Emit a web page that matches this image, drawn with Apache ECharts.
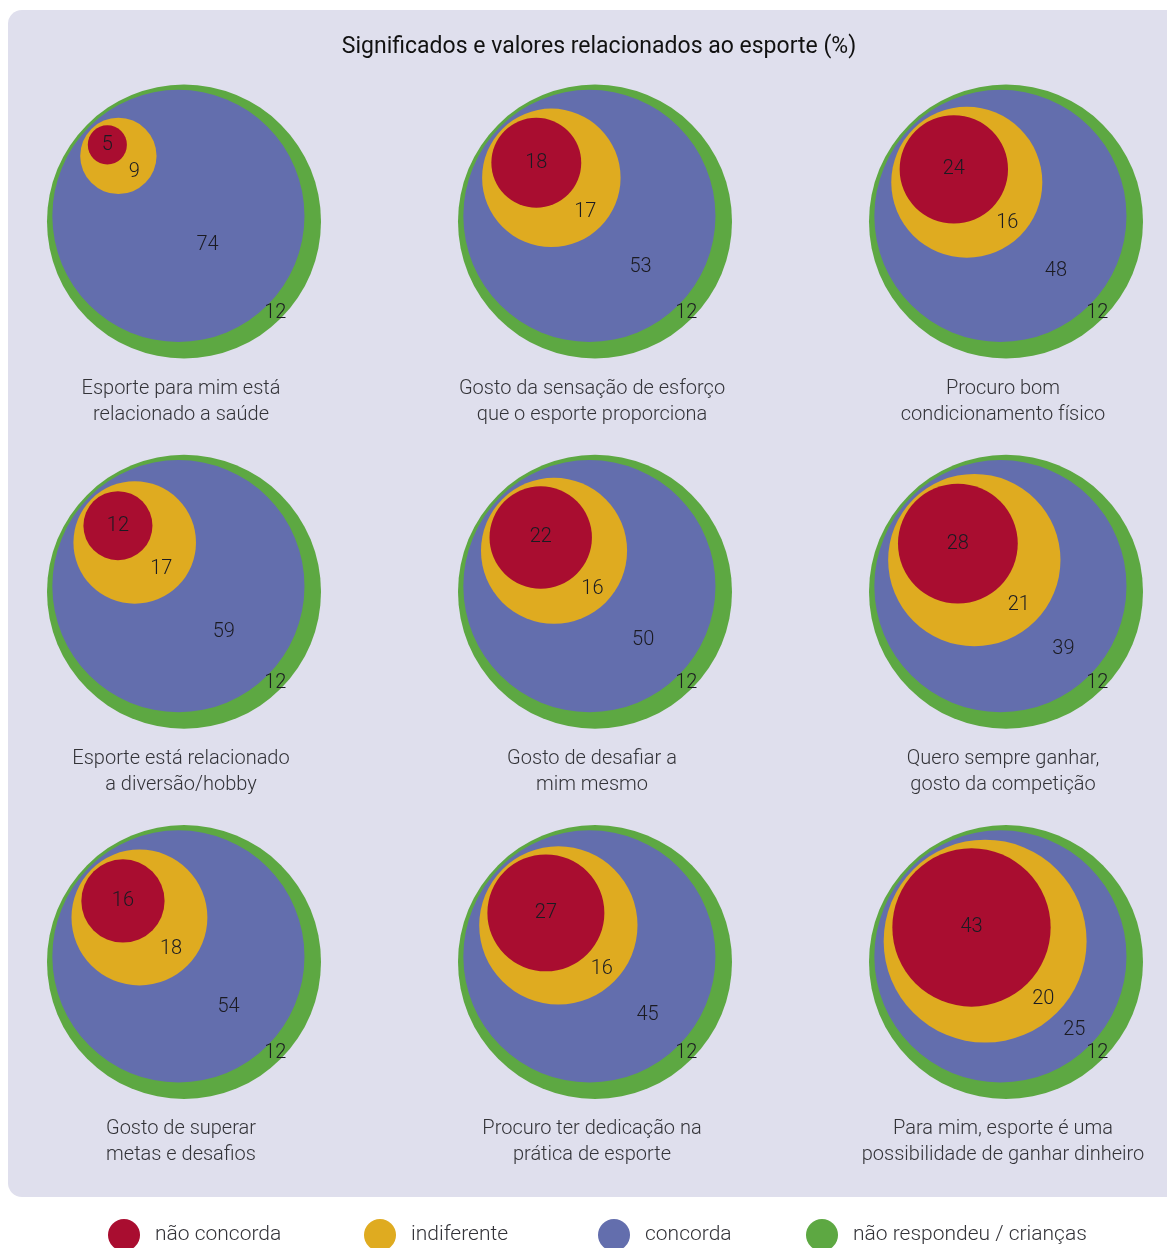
<!DOCTYPE html>
<html>
<head>
<meta charset="utf-8">
<script src="https://cdn.jsdelivr.net/npm/echarts@6/dist/echarts.min.js"></script>
<style>
  html, body { margin: 0; padding: 0; background: #ffffff; }
  #chart { width: 1167px; height: 1248px; }
</style>
</head>
<body>
<div id="chart"></div>
<script>
// Statements shown in the 3x3 panels (reading order, row by row)
const captions = [
  'Esporte para mim está\nrelacionado a saúde',
  'Gosto da sensação de esforço\nque o esporte proporciona',
  'Procuro bom\ncondicionamento físico',
  'Esporte está relacionado\na diversão/hobby',
  'Gosto de desafiar a\nmim mesmo',
  'Quero sempre ganhar,\ngosto da competição',
  'Gosto de superar\nmetas e desafios',
  'Procuro ter dedicação na\nprática de esporte',
  'Para mim, esporte é uma\npossibilidade de ganhar dinheiro'
];

// Answer shares (%) per statement
const naoConcorda  = [5, 18, 24, 12, 22, 28, 16, 27, 43];
const indiferente  = [9, 17, 16, 17, 16, 21, 18, 16, 20];
const concorda     = [74, 53, 48, 59, 50, 39, 54, 45, 25];
const naoRespondeu = [12, 12, 12, 12, 12, 12, 12, 12, 12];

const layerNames = ['não concorda', 'indiferente', 'concorda', 'não respondeu / crianças'];
const layerColors = ['#a90d30', '#dfab20', '#636ead', '#5da842'];
const layerValues = [naoConcorda, indiferente, concorda, naoRespondeu];

const FONT = 'Roboto, "Noto Sans", sans-serif';
const RADIUS_EXP = 0.65;

// Nested circles: each layer's circle encloses the cumulative share up to it,
// and every inner circle sits toward the upper-left edge of the one around it.
function panelGeometry(i, api) {
  const col = i % 3 + 1;
  const row = Math.floor(i / 3) + 1;
  const center = api.coord([col, row]);
  const unit = api.size([1, 0])[0];
  const R = unit / 3;
  const gap = R * 0.022;
  const vals = layerValues.map(arr => arr[i]);
  const cum = [];
  let s = 0;
  vals.forEach(v => { s += v; cum.push(s); });
  const r = cum.map(v => R * Math.pow(v / s, RADIUS_EXP));
  const k = Math.SQRT1_2;
  const centers = [];
  centers[3] = center;
  for (let L = 2; L >= 0; L--) {
    const d = r[L + 1] - r[L] - gap;
    centers[L] = [centers[L + 1][0] - k * d, centers[L + 1][1] - k * d];
  }
  const labels = [centers[0]];
  for (let L = 1; L < 4; L++) {
    const d = r[L - 1] + gap;
    labels[L] = [centers[L][0] + k * d, centers[L][1] + k * d];
  }
  return { center, R, r, centers, labels, vals };
}

function makeRenderer(L) {
  return function (params, api) {
    const i = params.dataIndex;
    const g = panelGeometry(i, api);
    const children = [
      {
        type: 'circle',
        shape: { cx: g.centers[L][0], cy: g.centers[L][1], r: g.r[L] },
        style: { fill: layerColors[L] }
      },
      {
        type: 'text',
        z2: 10,
        style: {
          text: String(g.vals[L]),
          x: g.labels[L][0],
          y: g.labels[L][1],
          align: 'center',
          verticalAlign: 'middle',
          fill: '#1b1b22',
          font: '300 20px ' + FONT
        }
      }
    ];
    if (L === 3) {
      children.push({
        type: 'text',
        style: {
          text: captions[i],
          x: g.center[0] - 3,
          y: g.center[1] + g.R * 1.314,
          align: 'center',
          verticalAlign: 'middle',
          fill: '#333338',
          font: '300 20px ' + FONT,
          lineHeight: 26
        }
      });
    }
    return { type: 'group', children };
  };
}

const cellData = captions.map((c, i) => [i % 3 + 1, Math.floor(i / 3) + 1]);

// Draw the outermost layer first so inner circles stay on top
const series = [3, 2, 1, 0].map(L => ({
  type: 'custom',
  name: layerNames[L],
  coordinateSystem: 'cartesian2d',
  clip: false,
  itemStyle: { color: layerColors[L] },
  encode: { x: 0, y: 1 },
  data: cellData,
  renderItem: makeRenderer(L)
}));

const legendLefts = [108, 364, 598, 806];
const legends = layerNames.map((name, L) => ({
  data: [name],
  left: legendLefts[L],
  top: 1219,
  padding: 0,
  icon: 'circle',
  itemWidth: 32,
  itemHeight: 32,
  selectedMode: false,
  textStyle: {
    fontFamily: FONT,
    fontWeight: 300,
    fontSize: 21,
    color: '#333338',
    padding: [0, 0, 3, 10]
  }
}));

const chart = echarts.init(document.getElementById('chart'), null, { renderer: 'canvas' });
chart.setOption({
  animation: false,
  backgroundColor: '#ffffff',
  graphic: [{
    type: 'rect',
    z: -10,
    silent: true,
    shape: { x: 8, y: 10, width: 1200, height: 1187, r: 14 },
    style: { fill: '#dfdfed' }
  }],
  title: {
    text: 'Significados e valores relacionados ao esporte (%)',
    left: 594,
    textAlign: 'center',
    top: 31,
    textStyle: {
      fontFamily: FONT,
      fontWeight: 'normal',
      fontSize: 23,
      color: '#111111'
    }
  },
  legend: legends,
  grid: { left: 184, right: 161, top: 221.5, bottom: 286 },
  xAxis: { type: 'value', min: 1, max: 3, show: false },
  yAxis: { type: 'value', min: 1, max: 3, inverse: true, show: false },
  series
});
</script>
</body>
</html>
